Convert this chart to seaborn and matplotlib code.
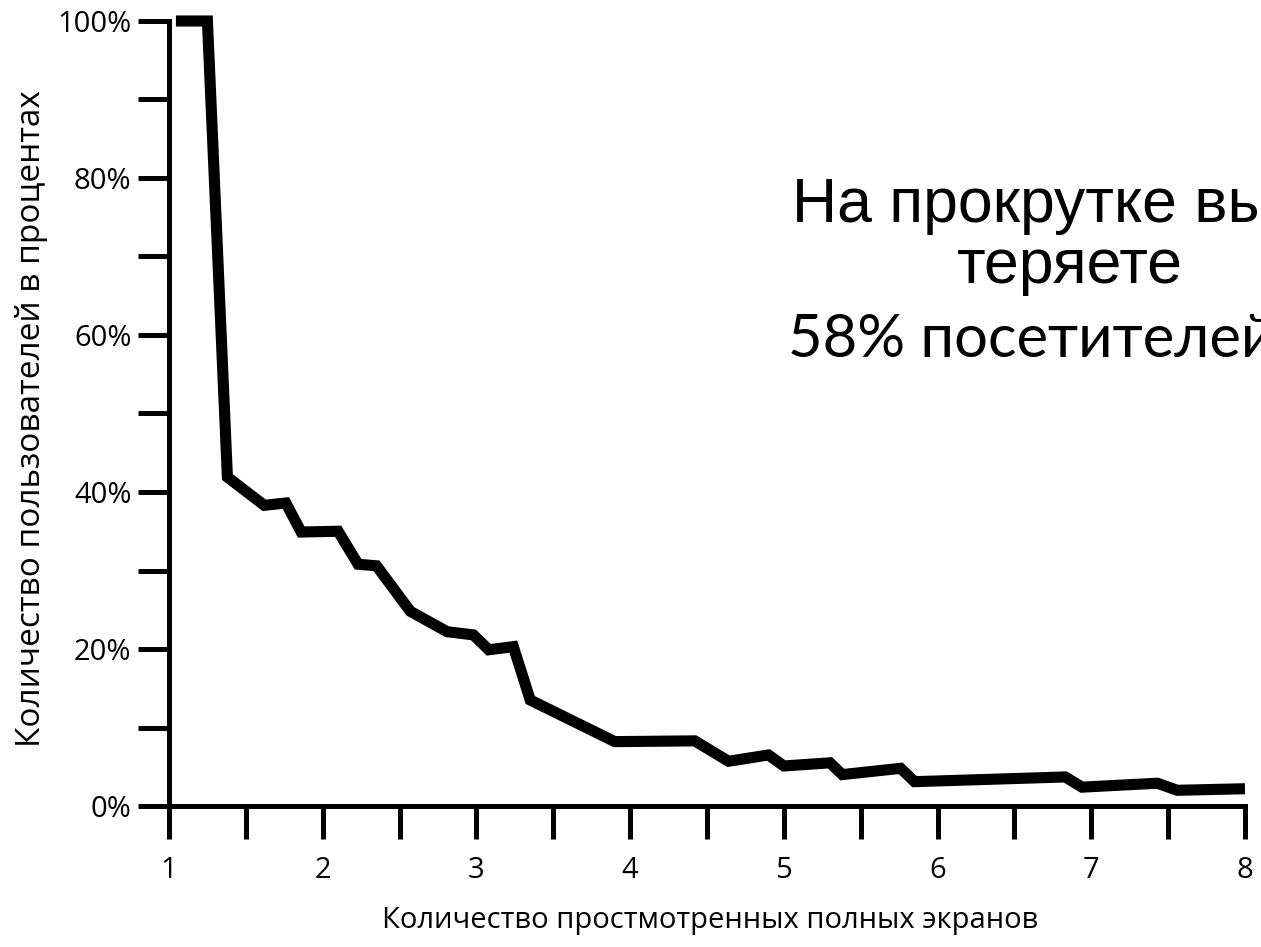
import matplotlib
matplotlib.use("Agg")
import matplotlib.pyplot as plt
import seaborn as sb
from matplotlib.ticker import FixedLocator, FuncFormatter

# screens viewed vs share of users still scrolling (%)
screens = [1.045, 1.25, 1.38, 1.62, 1.76, 1.86, 2.10, 2.23, 2.35, 2.57, 2.81, 2.98, 3.08, 3.24, 3.35,
           3.90, 4.42, 4.64, 4.90, 5.00, 5.30, 5.38, 5.76, 5.85, 6.83, 6.94, 7.43, 7.56, 8.0]
users_pct = [100, 100, 41.9, 38.3, 38.6, 34.9, 35.0, 30.8, 30.6, 24.8, 22.2, 21.8, 19.9, 20.3, 13.5,
             8.2, 8.3, 5.7, 6.5, 5.1, 5.5, 4.0, 4.8, 3.1, 3.7, 2.4, 2.9, 2.0, 2.2]

x_major = [1, 2, 3, 4, 5, 6, 7, 8]
x_minor = [1.5, 2.5, 3.5, 4.5, 5.5, 6.5, 7.5]
y_major = [0, 20, 40, 60, 80, 100]
y_minor = [10, 30, 50, 70, 90]

x_label = "Количество простмотренных полных экранов"
y_label = "Количество пользователей в процентах"
note_lines = ["На прокрутке вы", "теряете", "58% посетителей"]

sb.set_style("ticks")
plt.rcParams["font.family"] = ["Open Sans", "DejaVu Sans"]
plt.rcParams["text.color"] = "black"
plt.rcParams["axes.labelcolor"] = "black"

fig = plt.figure(figsize=(12.61, 9.47), dpi=100)
W, H = 1261, 947
ax = fig.add_axes([169 / W, 1 - 806 / H, (1245 - 169) / W, (806 - 21) / H])

sb.lineplot(x=screens, y=users_pct, ax=ax, color="black", linewidth=8, estimator=None,
            sort=False)
for ln in ax.lines:
    ln.set_clip_on(False)
    ln.set_solid_joinstyle("miter")
    ln.set_solid_capstyle("butt")

ax.set_xlim(1, 8)
ax.set_ylim(0, 100)

ax.xaxis.set_major_locator(FixedLocator(x_major))
ax.xaxis.set_minor_locator(FixedLocator(x_minor))
ax.yaxis.set_major_locator(FixedLocator(y_major))
ax.yaxis.set_minor_locator(FixedLocator(y_minor))
ax.yaxis.set_major_formatter(FuncFormatter(lambda v, p: f"{int(v)}%"))

for s in ["top", "right"]:
    ax.spines[s].set_visible(False)
for s in ["left", "bottom"]:
    ax.spines[s].set_linewidth(3.6)
    ax.spines[s].set_color("black")
# axis lines run a little past the corner, like in the original drawing
ax.spines["bottom"].set_bounds(1 - 19 / 153.9, 8)
ax.spines["left"].set_bounds(-3.0, 100)

ax.tick_params(axis="x", which="both", direction="out", length=24, width=3.6, pad=12,
               labelsize=21, colors="black")
ax.tick_params(axis="y", which="both", direction="out", length=22, width=3.6, pad=5,
               labelsize=21, colors="black")

ax.set_xlabel(x_label, fontsize=21)
ax.set_ylabel(y_label, fontsize=24)
ax.xaxis.set_label_coords(0.503, -0.128)
ax.yaxis.set_label_coords(-0.112, 0.493)

fig.text(792 / W, 1 - 222 / H, note_lines[0], ha="left", va="baseline", fontsize=45,
         family=["Liberation Sans", "DejaVu Sans"])
fig.text(1070 / W, 1 - 283 / H, note_lines[1], ha="center", va="baseline", fontsize=45,
         family=["Liberation Sans", "DejaVu Sans"])
fig.text(788 / W, 1 - 357 / H, note_lines[2], ha="left", va="baseline", fontsize=43,
         family=["Lato", "DejaVu Sans"])

fig.savefig("out.png", dpi=100)
